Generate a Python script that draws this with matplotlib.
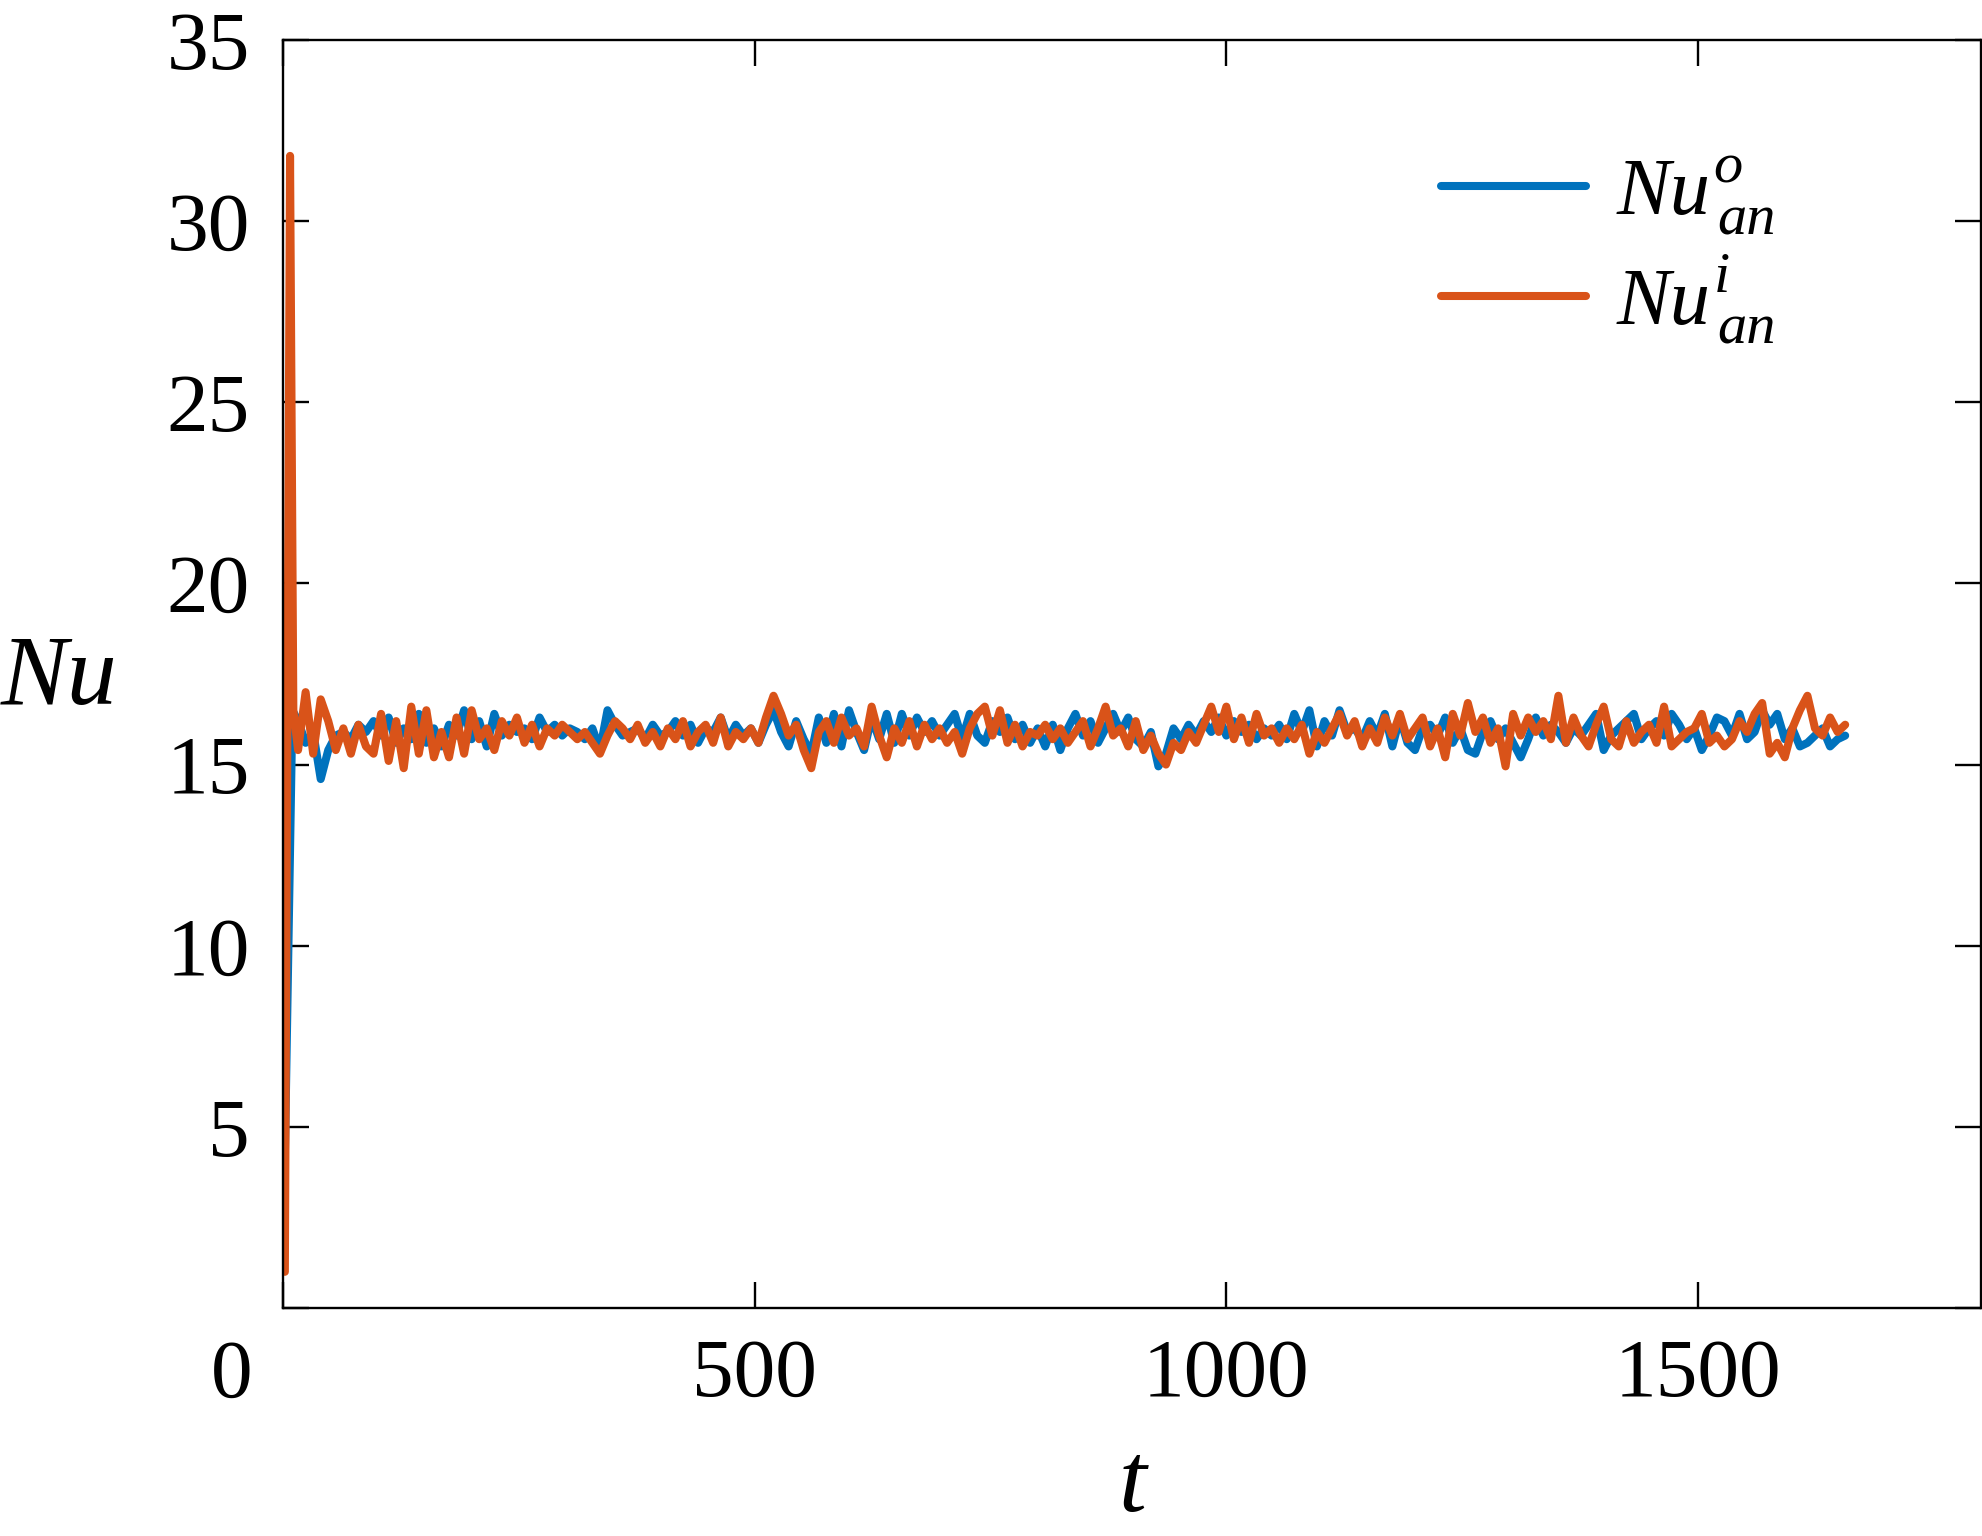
import matplotlib
matplotlib.use("Agg")
import matplotlib.pyplot as plt

# -------------------------------
# Data
# -------------------------------
# start-up transient
t_start_o = [0, 10]
nu_start_o = [1.1, 16.5]
t_start_i = [2, 7.5, 11]
nu_start_i = [1.0, 31.8, 16.5]

# quasi-steady part, t = 16, 24, ..., 1656
t_steady = list(range(16, 1657, 8))

nu_o = [
    16.2, 15.6, 15.9, 14.6, 15.4, 15.8, 15.9, 15.7, 16.1, 15.9,
    16.2, 15.8, 16.3, 15.6, 16.0, 15.7, 16.4, 15.6, 16.0, 15.5,
    16.1, 15.8, 16.5, 15.7, 16.2, 15.5, 16.4, 15.8, 16.1, 15.9,
    16.0, 15.7, 16.3, 15.9, 16.1, 15.8, 16.0, 15.9, 15.7, 16.0,
    15.4, 16.5, 16.1, 15.8, 15.9, 16.0, 15.7, 16.1, 15.8, 15.9,
    16.2, 15.8, 16.1, 15.6, 16.0, 15.9, 16.3, 15.7, 16.1, 15.8,
    16.0, 15.6, 16.1, 16.5, 15.9, 15.5, 16.2, 15.7, 15.3, 16.3,
    15.6, 16.4, 15.5, 16.5, 15.9, 15.4, 16.3, 15.7, 16.4, 15.6,
    16.4, 15.8, 16.3, 15.9, 16.2, 15.8, 16.1, 16.4, 15.7, 16.4,
    15.8, 15.6, 16.2, 15.9, 16.3, 15.7, 16.1, 15.6, 16.0, 15.5,
    16.1, 15.4, 16.0, 16.4, 15.8, 16.2, 15.6, 16.0, 16.4, 15.9,
    16.3, 15.7, 15.5, 15.9, 14.95, 15.3, 16.0, 15.7, 16.1, 15.8,
    16.2, 15.9, 16.3, 15.8, 16.2, 15.9, 16.1, 15.7, 16.0, 15.8,
    16.1, 15.7, 16.4, 15.9, 16.5, 15.5, 16.2, 15.8, 16.5, 15.9,
    16.0, 15.7, 16.2, 15.8, 16.4, 15.5, 16.3, 15.6, 15.4, 16.0,
    16.1, 15.8, 16.3, 15.6, 16.0, 15.4, 15.3, 15.9, 16.2, 15.7,
    16.0, 15.6, 15.2, 15.7, 16.3, 15.8, 16.1, 15.9, 15.6, 16.0,
    15.8, 16.1, 16.4, 15.4, 15.8, 16.0, 16.2, 16.4, 15.7, 16.0,
    16.2, 15.8, 16.4, 16.1, 15.7, 16.0, 15.4, 15.8, 16.3, 16.2,
    15.8, 16.4, 15.7, 15.9, 16.5, 16.1, 16.4, 15.7, 16.0, 15.5,
    15.6, 15.8, 16.0, 15.5, 15.7, 15.8,
]

nu_i = [
    15.4, 17.0, 15.3, 16.8, 16.2, 15.4, 16.0, 15.3, 16.1, 15.5,
    15.3, 16.4, 15.1, 16.2, 14.9, 16.6, 15.3, 16.5, 15.2, 15.9,
    15.2, 16.3, 15.3, 16.5, 15.7, 16.0, 15.4, 16.2, 15.8, 16.3,
    15.6, 16.1, 15.5, 16.0, 15.8, 16.1, 15.9, 15.7, 15.9, 15.6,
    15.3, 15.8, 16.2, 16.0, 15.7, 16.1, 15.6, 15.9, 15.5, 16.0,
    15.7, 16.2, 15.5, 15.9, 16.1, 15.6, 16.3, 15.5, 15.9, 15.7,
    16.0, 15.6, 16.3, 16.9, 16.4, 15.8, 16.1, 15.4, 14.9, 15.9,
    16.2, 15.6, 16.3, 15.8, 16.0, 15.5, 16.6, 15.8, 15.2, 16.0,
    15.6, 16.2, 15.5, 16.1, 15.7, 16.0, 15.6, 15.9, 15.3, 16.0,
    16.4, 16.6, 15.8, 16.5, 15.6, 16.1, 15.5, 15.9, 15.8, 16.1,
    15.7, 16.0, 15.6, 15.9, 16.2, 15.5, 16.0, 16.6, 15.8, 16.0,
    15.5, 16.2, 15.4, 15.8, 15.3, 15.0, 15.6, 15.4, 15.9, 15.6,
    16.1, 16.6, 15.9, 16.6, 15.7, 16.3, 15.6, 16.4, 15.8, 16.0,
    15.6, 16.0, 15.7, 16.1, 15.3, 15.9, 15.6, 16.0, 16.4, 15.8,
    16.2, 15.5, 16.0, 15.6, 16.3, 15.8, 16.4, 15.7, 16.0, 16.3,
    15.5, 16.0, 15.2, 16.4, 15.8, 16.7, 15.9, 16.3, 15.6, 16.0,
    14.95, 16.4, 15.8, 16.3, 15.9, 16.2, 15.7, 16.9, 15.6, 16.3,
    15.8, 15.5, 16.1, 16.6, 15.7, 15.5, 16.2, 15.6, 15.9, 16.1,
    15.6, 16.6, 15.5, 15.7, 15.9, 16.0, 16.4, 15.6, 15.8, 15.5,
    15.7, 16.2, 15.9, 16.4, 16.7, 15.3, 15.6, 15.2, 16.0, 16.5,
    16.9, 16.0, 15.8, 16.3, 15.9, 16.1,
]

x_ticks = [0, 500, 1000, 1500]
y_ticks = [0, 5, 10, 15, 20, 25, 30, 35]

# legend label pieces: main symbol, superscript, subscript
leg_main = ["Nu", "Nu"]
leg_sup = ["o", "i"]
leg_sub = ["an", "an"]

# -------------------------------
# Style
# -------------------------------
plt.rcParams["font.family"] = ["Liberation Serif", "DejaVu Serif"]

blue = "#0072BD"
orange = "#D95319"

fig = plt.figure(figsize=(19.83, 15.36), dpi=100)
ax = fig.add_axes([0.1427, 0.1484, 0.8563, 0.8256])

line_o, = ax.plot(t_start_o + t_steady, nu_start_o + nu_o, color=blue,
                  lw=5.8, solid_joinstyle="round", solid_capstyle="round")
line_i, = ax.plot(t_start_i + t_steady, nu_start_i + nu_i, color=orange,
                  lw=5.8, solid_joinstyle="round", solid_capstyle="round")

ax.set_xlim(0, 1800)
ax.set_ylim(0, 35)
ax.set_xticks(x_ticks)
ax.set_xticklabels([""] + [str(v) for v in x_ticks[1:]])
ax.set_yticks(y_ticks)
ax.set_yticklabels([""] + [str(v) for v in y_ticks[1:]])

ax.tick_params(direction="in", length=19, width=1.7, labelsize=60,
               top=True, right=True)
ax.tick_params(axis="y", pad=24)
ax.tick_params(axis="x", pad=22)
for s in ax.spines.values():
    s.set_linewidth(1.7)

# the "0" on the x axis sits left of the corner in the original
ax.text(-0.03, -0.025, "0", transform=ax.transAxes, fontsize=60,
        ha="center", va="top")

ax.set_xlabel("t", fontsize=72, fontstyle="italic", labelpad=20)
ax.set_ylabel("Nu", fontsize=72, fontstyle="italic", rotation=0)
ax.yaxis.set_label_coords(-0.132, 0.46)

# -------------------------------
# Legend: handles from matplotlib, labels built as Nu + sup + sub
# -------------------------------
leg = ax.legend([line_o, line_i], leg_main, loc="upper left",
                bbox_to_anchor=(0.682, 0.907), frameon=False,
                fontsize=58, handlelength=1.8, handletextpad=0.38,
                labelspacing=0.45, borderpad=0, borderaxespad=0)
for txt, sup, sub in zip(leg.get_texts(), leg_sup, leg_sub):
    txt.set_fontstyle("italic")
    # drawn after the legend so the label position is already known
    ax.annotate(sup, xy=(1, 0), xycoords=txt, xytext=(2, 35),
                textcoords="offset points", fontsize=42,
                fontstyle="italic", ha="left", va="baseline", zorder=10)
    ax.annotate(sub, xy=(1, 0), xycoords=txt, xytext=(5, -2),
                textcoords="offset points", fontsize=42,
                fontstyle="italic", ha="left", va="baseline", zorder=10)

fig.savefig("out.png", dpi=100)
plt.close()
